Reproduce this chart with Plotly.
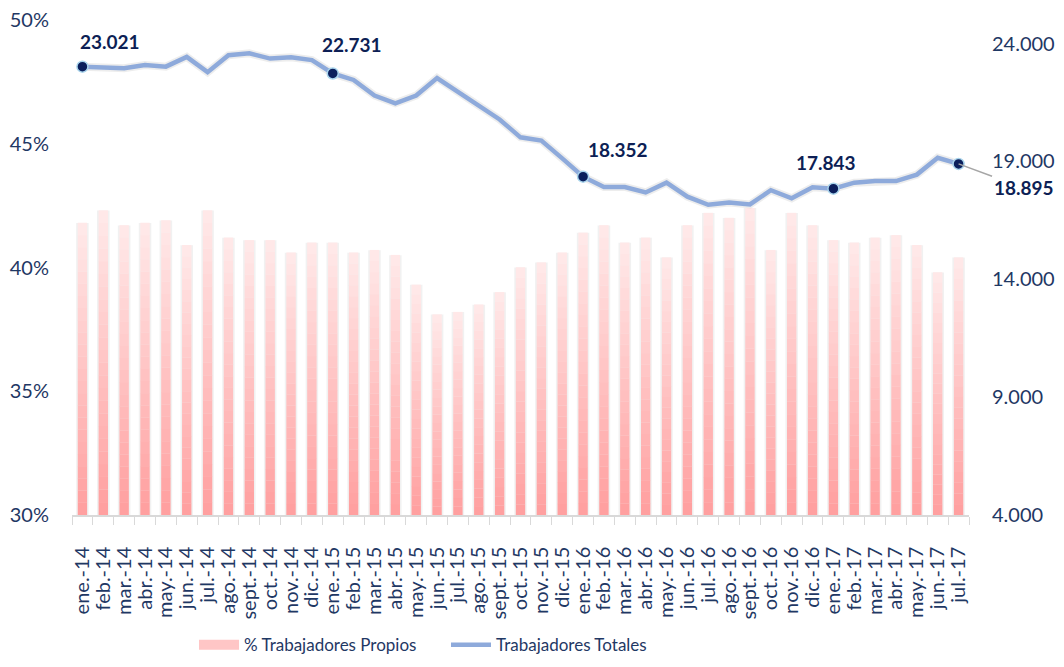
import plotly.graph_objects as go

months = ["ene.", "feb.", "mar.", "abr.", "may.", "jun.", "jul.", "ago.", "sept.", "oct.", "nov.", "dic."]
categories = [f"{m}-{y}" for y in ["14", "15", "16"] for m in months] + [f"{m}-17" for m in months[:7]]

pct_propios = [41.8, 42.3, 41.7, 41.8, 41.9, 40.9, 42.3, 41.2, 41.1, 41.1, 40.6, 41.0,
               41.0, 40.6, 40.7, 40.5, 39.3, 38.1, 38.2, 38.5, 39.0, 40.0, 40.2, 40.6,
               41.4, 41.7, 41.0, 41.2, 40.4, 41.7, 42.2, 42.0, 42.4, 40.7, 42.2, 41.7,
               41.1, 41.0, 41.2, 41.3, 40.9, 39.8, 40.4]

trab_totales = [23021, 23000, 22950, 23090, 23021, 23434, 22786, 23504, 23586, 23363, 23421, 23297,
                22731, 22456, 21797, 21465, 21797, 22538, 21948, 21400, 20780,
                20022, 19885, 19130, 18352, 17917, 17917, 17683, 18098, 17505, 17162, 17258, 17175,
                17780, 17438, 17900, 17843, 18098, 18165, 18165, 18441, 19155, 18895]

labeled_idx = [0, 12, 24, 36, 42]

NAVY = "#1F3864"
LABEL = "#0D1F55"
FONT = "Lato"
BASE = 30.0

fig = go.Figure()

# soft shadow behind bars
fig.add_trace(go.Bar(
    x=categories, y=[v - BASE for v in pct_propios], base=BASE, width=0.6,
    marker=dict(color="rgba(120,120,120,0.10)", line=dict(width=0)),
    showlegend=False, hoverinfo="skip", yaxis="y"))

# gradient bars built from stacked slices of each value
N = 24
top_c = (255, 232, 232)
bot_c = (255, 160, 160)
for i in range(N):
    t = i / (N - 1)
    c = tuple(round(bot_c[k] + (top_c[k] - bot_c[k]) * t) for k in range(3))
    fig.add_trace(go.Bar(
        x=categories,
        y=[(v - BASE) / N * 1.02 for v in pct_propios],
        base=[BASE + (v - BASE) * i / N for v in pct_propios],
        width=0.45,
        marker=dict(color=f"rgb{c}", line=dict(width=0)),
        showlegend=False, hoverinfo="skip", yaxis="y"))

# legend entry for bars (wide swatch)
fig.add_trace(go.Scatter(
    x=[None], y=[None], mode="lines", name="% Trabajadores Propios",
    line=dict(color="#FFC6C6", width=13), showlegend=True, yaxis="y"))

# subtle shadow of the line
fig.add_trace(go.Scatter(
    x=categories, y=trab_totales, mode="lines", showlegend=False, hoverinfo="skip",
    line=dict(color="rgba(0,0,0,0.07)", width=8), yaxis="y2"))

fig.add_trace(go.Scatter(
    x=categories, y=trab_totales, mode="lines", name="Trabajadores Totales",
    line=dict(color="#8EAADB", width=4.5), yaxis="y2"))

fig.add_trace(go.Scatter(
    x=[categories[i] for i in labeled_idx], y=[trab_totales[i] for i in labeled_idx],
    mode="markers", showlegend=False, hoverinfo="skip",
    marker=dict(color="#0B1F5C", size=11, line=dict(color="#A9D4EC", width=1.5)),
    yaxis="y2"))

def fmt(v):
    return f"{v:,}".replace(",", ".")

shifts = [(28, 12), (19, 15), (35, 14), (-7, 13)]
for (i, (xs, ys)) in zip(labeled_idx[:4], shifts):
    fig.add_annotation(x=categories[i], y=trab_totales[i], xref="x", yref="y2",
                       text=f"<b>{fmt(trab_totales[i])}</b>", showarrow=False,
                       xanchor="center", yanchor="bottom", xshift=xs, yshift=ys,
                       font=dict(family=FONT, size=19, color=LABEL))

last = labeled_idx[4]
fig.add_annotation(x=categories[last], y=trab_totales[last], xref="x", yref="y2",
                   text=f"<b>{fmt(trab_totales[last])}</b>", showarrow=True,
                   arrowhead=0, arrowwidth=1.5, arrowcolor="#A6A6A6",
                   ax=65, ay=24, xanchor="center", yanchor="middle",
                   font=dict(family=FONT, size=19, color=LABEL))

fig.update_layout(
    width=1064, height=667,
    margin=dict(l=64, r=103, t=12, b=146),
    plot_bgcolor="white", paper_bgcolor="white",
    barmode="overlay",
    separators=",.",
    font=dict(family=FONT, color=NAVY),
    xaxis=dict(type="category", range=[-0.5, len(categories) - 0.5], dtick=1, tickangle=-90,
               showline=True, linecolor="#D9D9D9", linewidth=1.5, automargin=False,
               ticks="outside", tickson="boundaries", ticklen=8, tickcolor="#D9D9D9",
               ticklabelstandoff=22,
               tickfont=dict(family=FONT, size=20, color=NAVY), showgrid=False),
    yaxis=dict(range=[30, 50], tickvals=[30, 35, 40, 45, 50], ticktext=["30%", "35%", "40%", "45%", "50%"],
               showgrid=False, zeroline=False, showline=False, automargin=False,
               ticklabeloverflow="allow",
               tickfont=dict(family=FONT, size=20, color=NAVY), ticks="", ticklabelstandoff=22),
    yaxis2=dict(range=[4000, 25000], tickvals=[4000, 9000, 14000, 19000, 24000], tickformat=",.0f",
                overlaying="y", side="right", showgrid=False, zeroline=False, showline=False,
                automargin=False, ticklabeloverflow="allow",
                tickfont=dict(family=FONT, size=20, color=NAVY), ticklabelstandoff=22),
    legend=dict(orientation="h", x=0.136, xanchor="left", y=-0.263, yanchor="middle",
                font=dict(family=FONT, size=17, color=NAVY), itemwidth=40,
                entrywidth=197, entrywidthmode="pixels",
                traceorder="normal"),
)

fig.write_html("out.html")
